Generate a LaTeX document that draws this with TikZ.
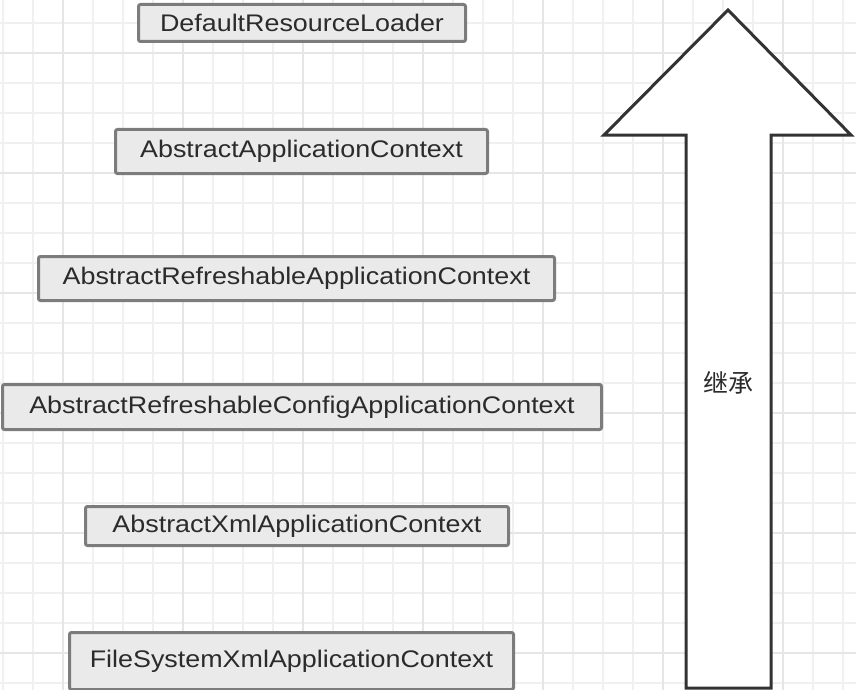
\documentclass[tikz,border=0pt]{standalone}
\usepackage{fontspec}
\setmainfont{Liberation Sans}[FakeStretch=1.12]
\newfontfamily\cjk{Noto Sans CJK SC}
\usepackage{tikz}

\definecolor{boxline}{HTML}{7C7C7C}
\definecolor{boxfill}{HTML}{EAEAEA}
\definecolor{gridminor}{HTML}{F0F0F0}
\definecolor{gridmajor}{HTML}{E6E6E6}
\definecolor{arrowline}{HTML}{333333}
\definecolor{boxtext}{HTML}{2B2B2B}

\tikzstyle{classbox} = [rectangle, rounded corners=2pt, text centered, draw=boxline, fill=boxfill, line width=3pt, text=boxtext, font=\fontsize{24}{28}\selectfont, inner sep=0pt]
\tikzstyle{gridline} = [draw=gridminor, line width=1.2pt]
\tikzstyle{bigarrow} = [draw=arrowline, fill=white, line width=3pt, line join=miter]

\begin{document}
\begin{tikzpicture}[x=1pt, y=-1pt,
majorline/.style={draw=gridmajor, line width=1.4pt}
]
\useasboundingbox (0,0) rectangle (856,690);

% background grid
\foreach \x in {3,33,...,843} \draw [gridline] (\x,0) -- (\x,690);
\foreach \y in {23,53,...,683} \draw [gridline] (0,\y) -- (856,\y);
\foreach \x in {63,183,...,783} \draw [majorline] (\x,0) -- (\x,690);
\foreach \y in {53,173,...,653} \draw [majorline] (0,\y) -- (856,\y);

% class hierarchy
\node (loader) [classbox, minimum width=327pt, minimum height=37pt] at (302,23) {DefaultResourceLoader};
\node (appctx) [classbox, minimum width=372pt, minimum height=44pt] at (301.5,151.5) {AbstractApplicationContext};
\node (refreshctx) [classbox, minimum width=516pt, minimum height=44pt] at (296.5,278.5) {AbstractRefreshableApplicationContext};
\node (configctx) [classbox, minimum width=599pt, minimum height=45pt] at (302,407) {AbstractRefreshableConfigApplicationContext};
\node (xmlctx) [classbox, minimum width=423pt, minimum height=39pt] at (297,526) {AbstractXmlApplicationContext};
\node (filectx) [classbox, minimum width=444pt, minimum height=57pt] at (291.5,661) {FileSystemXmlApplicationContext};

% inheritance arrow
\draw [bigarrow] (728,10) -- (851,135) -- (771,135) -- (771,688) -- (686,688) -- (686,135) -- (604,135) -- cycle;
\node (inherit) [text=boxtext] at (728,383) {\cjk\fontsize{25}{28}\selectfont 继承};
\end{tikzpicture}
\end{document}
